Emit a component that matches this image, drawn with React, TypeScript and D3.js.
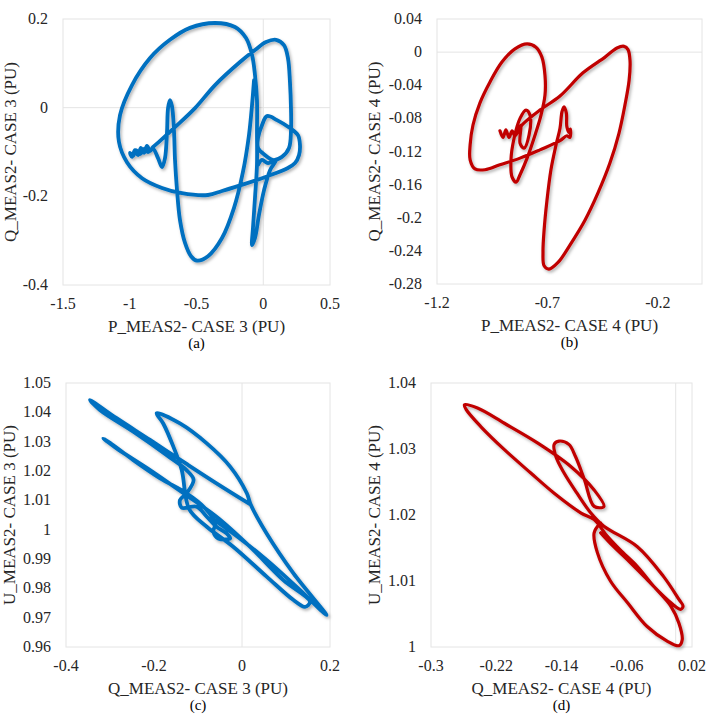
import React from 'react';
import * as d3 from 'd3';

type Pt = [number, number];

const BLUE = '#0070C0';
const RED = '#C00000';

// (a) P vs Q, case 3
const caseA: Pt[] = [
  [-0.039, -0.129], [-0.009, -0.118], [0.036, -0.125], [0.096, -0.118], [0.051, -0.141],
  [0.006, -0.186], [-0.032, -0.242], [-0.062, -0.294], [-0.084, -0.31], [-0.077, -0.271],
  [-0.062, -0.204], [-0.047, -0.129], [-0.047, -0.055], [-0.047, 0.017], [-0.062, 0.074],
  [-0.084, 0.119], [-0.129, 0.157], [-0.212, 0.182], [-0.361, 0.191], [-0.549, 0.18],
  [-0.699, 0.153], [-0.848, 0.112], [-0.983, 0.051], [-1.073, -0.017], [-1.081, -0.077],
  [-1.021, -0.123], [-0.908, -0.159], [-0.758, -0.181], [-0.609, -0.193], [-0.414, -0.197],
  [-0.309, -0.188], [-0.137, -0.172], [0.036, -0.154], [0.185, -0.136], [0.238, -0.125],
  [0.268, -0.107], [0.275, -0.084], [0.26, -0.062], [0.2, -0.046], [0.103, -0.028],
  [0.028, -0.019], [-0.009, -0.039], [-0.039, -0.068], [-0.039, -0.091], [0.013, -0.107],
  [0.073, -0.118], [0.14, -0.111], [0.193, -0.091], [0.208, -0.05], [0.208, -0.005],
  [0.2, 0.058], [0.185, 0.112], [0.155, 0.141], [0.096, 0.153], [0.021, 0.148],
  [-0.062, 0.13], [-0.174, 0.103], [-0.361, 0.051], [-0.511, -0.001], [-0.661, -0.044],
  [-0.773, -0.075], [-0.826, -0.089], [-0.848, -0.098], [-0.871, -0.086], [-0.893, -0.102],
  [-0.916, -0.091], [-0.938, -0.107], [-0.961, -0.096], [-0.983, -0.111], [-0.998, -0.102],
  [-0.976, -0.109], [-0.953, -0.096], [-0.923, -0.105], [-0.893, -0.093], [-0.863, -0.1],
  [-0.826, -0.093], [-0.788, -0.114], [-0.758, -0.134], [-0.736, -0.114], [-0.721, -0.055],
  [-0.713, -0.001], [-0.699, 0.017], [-0.684, 0.004], [-0.669, -0.05], [-0.661, -0.118],
  [-0.646, -0.186], [-0.624, -0.253], [-0.586, -0.305], [-0.541, -0.335], [-0.496, -0.345],
  [-0.414, -0.335], [-0.309, -0.294], [-0.219, -0.226], [-0.152, -0.145], [-0.107, -0.062],
  [-0.084, 0.006], [-0.069, 0.062],
];

// (b) P vs Q, case 4
const caseB: Pt[] = [
  [-0.915, -0.095], [-0.901, -0.103], [-0.888, -0.094], [-0.874, -0.103], [-0.86, -0.095],
  [-0.847, -0.101], [-0.815, -0.088], [-0.734, -0.07], [-0.643, -0.053], [-0.539, -0.025],
  [-0.439, -0.006], [-0.385, 0.005], [-0.353, 0.007], [-0.335, 0.003], [-0.326, -0.01],
  [-0.33, -0.034], [-0.349, -0.064], [-0.376, -0.098], [-0.417, -0.134], [-0.471, -0.17],
  [-0.53, -0.203], [-0.598, -0.233], [-0.652, -0.254], [-0.693, -0.262], [-0.715, -0.258],
  [-0.72, -0.241], [-0.715, -0.215], [-0.702, -0.179], [-0.684, -0.142], [-0.661, -0.112],
  [-0.643, -0.092], [-0.634, -0.072], [-0.625, -0.066], [-0.614, -0.074], [-0.612, -0.09],
  [-0.602, -0.097], [-0.596, -0.093], [-0.598, -0.103], [-0.612, -0.101], [-0.643, -0.107],
  [-0.734, -0.118], [-0.824, -0.128], [-0.915, -0.136], [-0.983, -0.142], [-1.028, -0.141],
  [-1.05, -0.13], [-1.05, -0.112], [-1.037, -0.088], [-1.005, -0.061], [-0.96, -0.036],
  [-0.906, -0.012], [-0.847, 0.004], [-0.792, 0.01], [-0.752, 0.006], [-0.725, -0.006],
  [-0.711, -0.028], [-0.711, -0.052], [-0.729, -0.076], [-0.756, -0.1], [-0.792, -0.128],
  [-0.824, -0.148], [-0.842, -0.157], [-0.86, -0.151], [-0.865, -0.13], [-0.851, -0.104],
  [-0.824, -0.08], [-0.797, -0.07], [-0.779, -0.076], [-0.783, -0.1], [-0.806, -0.116],
  [-0.824, -0.11], [-0.82, -0.088], [-0.842, -0.099],
];

// (c) Q vs U, case 3
const caseC: Pt[] = [
  [0.018, 1.0087], [-0.058, 1.0158], [-0.126, 1.0224], [-0.209, 1.0306], [-0.285, 1.038],
  [-0.3455, 1.0442], [-0.323, 1.0408], [-0.247, 1.0334], [-0.171, 1.0254], [-0.126, 1.0203],
  [-0.11, 1.017], [-0.126, 1.0124], [-0.141, 1.0101], [-0.137, 1.0075], [-0.103, 1.0078],
  [-0.08, 1.0044], [-0.058, 1.001], [-0.035, 0.9987], [-0.027, 0.997], [-0.054, 0.997],
  [-0.065, 0.9993], [-0.061, 1.0022], [-0.085, 1.0075], [-0.126, 1.0124], [-0.186, 1.0175],
  [-0.247, 1.0237], [-0.3, 1.0296], [-0.315, 1.0311], [-0.285, 1.0277], [-0.209, 1.0203],
  [-0.133, 1.0124], [-0.058, 1.0044], [0.018, 0.9942], [0.094, 0.9828], [0.1545, 0.9754],
  [0.143, 0.9737], [0.117, 0.976], [0.056, 0.984], [-0.02, 0.9942], [-0.08, 1.001],
  [-0.12, 1.007], [-0.137, 1.0203], [-0.156, 1.0283], [-0.179, 1.0362], [-0.194, 1.0397],
  [-0.141, 1.0362], [-0.08, 1.0294], [-0.027, 1.0215], [0.011, 1.0124], [0.02, 1.0085],
  [0.056, 0.9987], [0.117, 0.9851], [0.192, 0.9709], [0.132, 0.9794], [0.056, 0.9897],
  [-0.02, 0.9987], [-0.07, 1.004],
];

// (d) Q vs U, case 4
const caseD: Pt[] = [
  [-0.092, 1.0188], [-0.1, 1.0173], [-0.096, 1.0143], [-0.08, 1.01], [-0.059, 1.0067],
  [-0.035, 1.0031], [-0.0105, 1.0009], [0.004, 1.0002], [0.008, 1.0011], [0.004, 1.0036],
  [-0.006, 1.0062], [-0.027, 1.0092], [-0.047, 1.0122], [-0.068, 1.0147], [-0.084, 1.0168],
  [-0.1, 1.0193], [-0.116, 1.0203], [-0.149, 1.0233], [-0.178, 1.0264], [-0.21, 1.0299],
  [-0.239, 1.0334], [-0.257, 1.036], [-0.259, 1.0367], [-0.243, 1.0362], [-0.21, 1.0339],
  [-0.169, 1.0309], [-0.129, 1.0274], [-0.1, 1.0238], [-0.088, 1.0213], [-0.1, 1.0213],
  [-0.112, 1.0254], [-0.123, 1.0289], [-0.131, 1.0307], [-0.143, 1.0312], [-0.149, 1.0307],
  [-0.147, 1.0289], [-0.137, 1.0264], [-0.121, 1.0233], [-0.104, 1.0203], [-0.088, 1.0183],
  [-0.047, 1.0152], [-0.015, 1.0107], [0.004, 1.0072], [0.009, 1.0062], [0.006, 1.0057],
  [-0.0105, 1.0072], [-0.035, 1.0102], [-0.059, 1.0132], [-0.076, 1.0152], [-0.092, 1.0173],
];

const ticksAX = [-1.5, -1, -0.5, 0, 0.5];
const ticksAY = [-0.4, -0.2, 0, 0.2];
const ticksBX = [-1.2, -0.7, -0.2];
const ticksBY = [-0.28, -0.24, -0.2, -0.16, -0.12, -0.08, -0.04, 0, 0.04];
const ticksCX = [-0.4, -0.2, 0, 0.2];
const ticksCY = [0.96, 0.97, 0.98, 0.99, 1, 1.01, 1.02, 1.03, 1.04, 1.05];
const ticksDX = [-0.3, -0.22, -0.14, -0.06, 0.02];
const ticksDY = [1, 1.01, 1.02, 1.03, 1.04];

interface PanelSpec {
  id: string;
  data: Pt[];
  color: string;
  width: number;
  box: { l: number; r: number; t: number; b: number };
  xDomain: [number, number];
  yDomain: [number, number];
  xTicks: number[];
  yTicks: number[];
  zeroX: boolean;
  zeroY: boolean;
  xTitle: string;
  yTitle: string;
  caption: string;
  yTitleX: number;
}

const panels: PanelSpec[] = [
  {
    id: 'a', data: caseA, color: BLUE, width: 3.8,
    box: { l: 63, r: 330, t: 19, b: 285 },
    xDomain: [-1.5, 0.5], yDomain: [-0.4, 0.2], xTicks: ticksAX, yTicks: ticksAY,
    zeroX: true, zeroY: true,
    xTitle: 'P_MEAS2- CASE 3 (PU)', yTitle: 'Q_MEAS2- CASE 3 (PU)', caption: '(a)', yTitleX: 11,
  },
  {
    id: 'b', data: caseB, color: RED, width: 3.2,
    box: { l: 437, r: 702, t: 19, b: 284 },
    xDomain: [-1.2, 0], yDomain: [-0.28, 0.04], xTicks: ticksBX, yTicks: ticksBY,
    zeroX: false, zeroY: true,
    xTitle: 'P_MEAS2- CASE 4 (PU)', yTitle: 'Q_MEAS2- CASE 4 (PU)', caption: '(b)', yTitleX: 375,
  },
  {
    id: 'c', data: caseC, color: BLUE, width: 3.8,
    box: { l: 66, r: 330, t: 383, b: 647 },
    xDomain: [-0.4, 0.2], yDomain: [0.96, 1.05], xTicks: ticksCX, yTicks: ticksCY,
    zeroX: true, zeroY: false,
    xTitle: 'Q_MEAS2- CASE 3 (PU)', yTitle: 'U_MEAS2- CASE 3 (PU)', caption: '(c)', yTitleX: 10,
  },
  {
    id: 'd', data: caseD, color: RED, width: 3.2,
    box: { l: 431, r: 692, t: 383, b: 647 },
    xDomain: [-0.3, 0.02], yDomain: [1, 1.04], xTicks: ticksDX, yTicks: ticksDY,
    zeroX: true, zeroY: false,
    xTitle: 'Q_MEAS2- CASE 4 (PU)', yTitle: 'U_MEAS2- CASE 4 (PU)', caption: '(d)', yTitleX: 375,
  },
];

const fmt = (v: number) => String(+v.toFixed(2));
const serif = { fontFamily: '"Liberation Serif", serif' };

const Panel: React.FC<{ p: PanelSpec }> = ({ p }) => {
  const { l, r, t, b } = p.box;
  const x = d3.scaleLinear().domain(p.xDomain).range([l, r]);
  const y = d3.scaleLinear().domain(p.yDomain).range([b, t]);
  const line = d3.line<Pt>()
    .x(d => x(d[0]))
    .y(d => y(d[1]))
    .curve(d3.curveCatmullRom.alpha(0.5));
  const grid = '#e4e4e4';

  return (
    <g>
      <rect x={l} y={t} width={r - l} height={b - t} fill="#fff" stroke={grid} strokeWidth={1} />
      {p.zeroX && <line x1={x(0)} x2={x(0)} y1={t} y2={b} stroke={grid} strokeWidth={1} />}
      {p.zeroY && <line x1={l} x2={r} y1={y(0)} y2={y(0)} stroke={grid} strokeWidth={1} />}
      <path d={line(p.data) || ''} fill="none" stroke={p.color} strokeWidth={p.width}
        strokeLinejoin="round" strokeLinecap="round" filter="url(#shadow)" />
      {p.yTicks.map(v => (
        <text key={'y' + v} x={l - 15} y={y(v) + 5} textAnchor="end" style={serif}
          fontSize={16} fill="#262626">{fmt(v)}</text>
      ))}
      {p.xTicks.map(v => (
        <text key={'x' + v} x={x(v)} y={b + 24} textAnchor="middle" style={serif}
          fontSize={16} fill="#262626">{fmt(v)}</text>
      ))}
      <text x={(l + r) / 2} y={b + 47} textAnchor="middle" style={serif} fontSize={17} fill="#262626">{p.xTitle}</text>
      <text x={(l + r) / 2} y={b + 63} textAnchor="middle" style={serif} fontSize={15} fill="#000">{p.caption}</text>
      <text transform={`translate(${p.yTitleX + 5},${(t + b) / 2}) rotate(-90)`} textAnchor="middle"
        style={serif} fontSize={17} fill="#262626">{p.yTitle}</text>
    </g>
  );
};

export default function App() {
  return (
    <svg width={708} height={723} style={{ position: 'absolute', left: 0, top: 0, display: 'block' }}>
      <defs>
        <filter id="shadow" x="-10%" y="-10%" width="120%" height="120%">
          <feDropShadow dx={1.5} dy={2} stdDeviation={1.5} floodColor="#000" floodOpacity={0.3} />
        </filter>
      </defs>
      <rect width={708} height={723} fill="#fff" />
      {panels.map(p => <Panel key={p.id} p={p} />)}
    </svg>
  );
}
